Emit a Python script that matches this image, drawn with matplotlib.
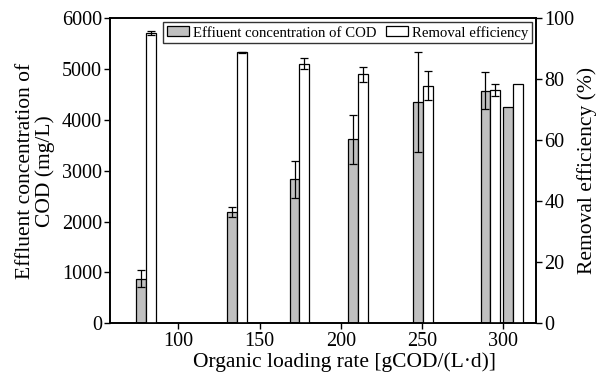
import numpy as np
import matplotlib
matplotlib.use('Agg')
import matplotlib.pyplot as plt

plt.rcParams['font.family'] = ['Liberation Serif', 'DejaVu Serif']

# organic loading rate, gCOD/(L.d)
olr = [80, 136, 174.5, 210.5, 250.5, 292, 306]
cod = [880, 2190, 2830, 3620, 4350, 4580, 4250]
cod_err = [160, 90, 370, 480, 980, 360, 0]
removal = [95.3, 88.9, 85.2, 81.6, 77.9, 76.5, 78.5]
removal_err = [0.7, 0.2, 1.9, 2.5, 4.8, 2.0, 0]

x = np.array(olr)
w = 6

fig = plt.figure(figsize=(5.96, 3.83), dpi=100)
ax = fig.add_axes([0.185, 0.156, 0.714, 0.796])
ax2 = ax.twinx()

err_kw = {'elinewidth': 0.9, 'capsize': 3, 'capthick': 0.9, 'ecolor': 'black'}
b1 = ax.bar(x - w / 2, cod, w, color='#c0c0c0', edgecolor='black', linewidth=0.9,
            yerr=[e if e else np.nan for e in cod_err], error_kw=err_kw,
            label='Effiuent concentration of COD')
b2 = ax2.bar(x + w / 2, removal, w, color='white', edgecolor='black', linewidth=0.9,
             yerr=[e if e else np.nan for e in removal_err], error_kw=err_kw,
             label='Removal efficiency')

ax.set_xlim(58, 320)
ax.set_ylim(0, 6000)
ax2.set_ylim(0, 100)
ax.set_xticks([100, 150, 200, 250, 300])
ax.set_yticks(range(0, 6001, 1000))
ax2.set_yticks(range(0, 101, 20))

for a in (ax, ax2):
    a.tick_params(labelsize=14.5, width=1, length=4, direction='out', pad=2)
    for s in a.spines.values():
        s.set_linewidth(1.2)

ax.set_xlabel('Organic loading rate [gCOD/(L·d)]', fontsize=15.5, labelpad=1)
ax.xaxis.set_label_coords(0.55, -0.095)
ax.set_ylabel('Effluent concentration of\nCOD (mg/L)', fontsize=15.5, labelpad=5,
              linespacing=1.0)
ax2.set_ylabel('Removal efficiency (%)', fontsize=15.5, labelpad=2)

leg = ax2.legend(handles=[b1, b2], loc='upper right', ncol=2, fontsize=10.6,
                 frameon=True, fancybox=False, edgecolor='black',
                 borderpad=0.25, handlelength=1.5, handleheight=0.65,
                 columnspacing=0.6, handletextpad=0.3, borderaxespad=0.25)
leg.get_frame().set_linewidth(1.0)

fig.savefig('out.png', dpi=100)
